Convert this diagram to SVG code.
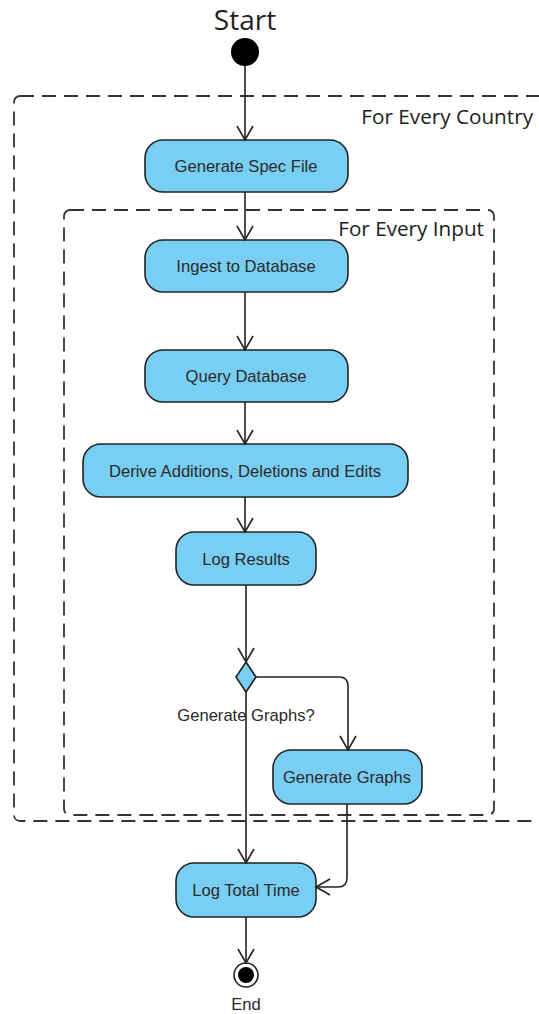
<svg xmlns="http://www.w3.org/2000/svg" width="539" height="1014" viewBox="0 0 539 1014">
<defs>
<marker id="arr" viewBox="0 0 20 20" refX="16" refY="10" markerWidth="20" markerHeight="20" markerUnits="userSpaceOnUse" orient="auto">
<path d="M2,2 L16,10 L2,18" fill="none" stroke="#222" stroke-width="1.6"/>
</marker>
<style>
.node rect,.node polygon{fill:#79CEF3;stroke:#222;stroke-width:1.6}
.lbl{font-family:"Liberation Sans",Arial,sans-serif;font-size:16.6px;fill:#2a2a2a;text-anchor:middle}
.big{font-family:"Open Sans","Noto Sans",sans-serif;fill:#222}
.frame{fill:none;stroke:#333;stroke-width:1.8;stroke-dasharray:14 8}
.conn path{fill:none;stroke:#222;stroke-width:1.6}
</style>
</defs>
<g id="frames">
<rect class="frame" x="14" y="96" width="540" height="725" rx="6"/>
<text class="big" x="533" y="124" font-size="20.7" text-anchor="end">For Every Country</text>
<rect class="frame" x="64" y="210" width="430" height="605" rx="6"/>
<text class="big" x="484" y="236" font-size="20.7" text-anchor="end">For Every Input</text>
</g>
<g id="start">
<text class="big" x="245" y="30" font-size="28" text-anchor="middle">Start</text>
<circle cx="245" cy="52" r="14" fill="#000"/>
</g>
<g id="n1" class="node"><rect x="145" y="140" width="203" height="52" rx="18"/><text class="lbl" x="246" y="172">Generate Spec File</text></g>
<g id="n2" class="node"><rect x="145" y="240" width="203" height="52" rx="18"/><text class="lbl" x="246" y="272">Ingest to Database</text></g>
<g id="n3" class="node"><rect x="145" y="350" width="203" height="52" rx="18"/><text class="lbl" x="246" y="382">Query Database</text></g>
<g id="n4" class="node"><rect x="83" y="444" width="325" height="53" rx="18"/><text class="lbl" x="245" y="477">Derive Additions, Deletions and Edits</text></g>
<g id="n5" class="node"><rect x="176" y="532" width="140" height="53" rx="18"/><text class="lbl" x="246" y="565">Log Results</text></g>
<g id="dec" class="node"><polygon points="246,662 256,677 246,692 236,677"/><text class="lbl" x="246" y="721">Generate Graphs?</text></g>
<g id="n6" class="node"><rect x="273" y="750" width="149" height="54" rx="18"/><text class="lbl" x="347" y="783">Generate Graphs</text></g>
<g id="n7" class="node"><rect x="176" y="863" width="140" height="54" rx="18"/><text class="lbl" x="246" y="896">Log Total Time</text></g>
<g id="end">
<circle cx="246" cy="975" r="12" fill="#fff" stroke="#222" stroke-width="1.6"/>
<circle cx="246" cy="975" r="8" fill="#000"/>
<text class="lbl" x="246" y="1010" font-size="15">End</text>
</g>
<g id="connectors" class="conn">
<path d="M245,66 V140" marker-end="url(#arr)"/>
<path d="M245,192 V240" marker-end="url(#arr)"/>
<path d="M245,292 V350" marker-end="url(#arr)"/>
<path d="M245,402 V444" marker-end="url(#arr)"/>
<path d="M245,497 V532" marker-end="url(#arr)"/>
<path d="M246,585 V662" marker-end="url(#arr)"/>
<path d="M256,677 H339 Q348,677 348,686 V750" marker-end="url(#arr)"/>
<path d="M246,692 V863" marker-end="url(#arr)"/>
<path d="M347,804 V878 Q347,887 338,887 H316" marker-end="url(#arr)"/>
<path d="M246,917 V963" marker-end="url(#arr)"/>
</g>
</svg>
